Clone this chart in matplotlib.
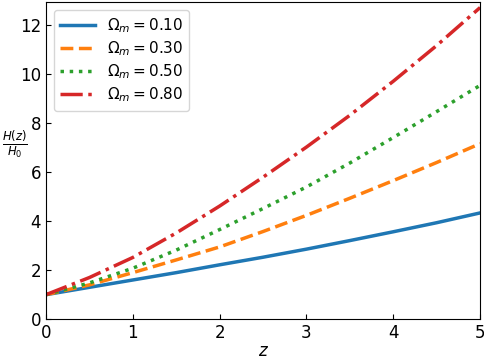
import matplotlib
matplotlib.use("Agg")
import matplotlib.pyplot as plt

# valores
z = [0, 0.5, 1, 1.5, 2, 2.5, 3, 3.5, 4, 4.5, 5]
omegas = ["0.10", "0.30", "0.50", "0.80"]
h_010 = [1, 1.30, 1.60, 1.90, 2.22, 2.53, 2.86, 3.21, 3.57, 3.94, 4.34]
h_030 = [1, 1.40, 1.90, 2.42, 2.95, 3.58, 4.24, 4.94, 5.66, 6.40, 7.17]
h_050 = [1, 1.48, 2.08, 2.82, 3.66, 4.52, 5.40, 6.38, 7.42, 8.48, 9.55]
h_080 = [1, 1.70, 2.52, 3.52, 4.62, 5.80, 7.03, 8.33, 9.72, 11.18, 12.73]

series = [h_010, h_030, h_050, h_080]
estilos = ["-", "--", ":", "-."]

fig, ax = plt.subplots(figsize=(4.84, 3.59), dpi=100)
for om, h, ls in zip(omegas, series, estilos):
    ax.plot(z, h, ls, lw=2.5, label=r"$\Omega_m = %s$" % om)

ax.set_xlim(0, 5)
ax.set_ylim(0, 12.95)
ax.tick_params(direction="in", labelsize=12)
ax.set_xlabel(r"$z$", fontsize=12, labelpad=0)
ax.set_ylabel(r"$\frac{H(z)}{H_0}$", rotation=0, fontsize=12)
ax.yaxis.set_label_coords(-0.072, 0.5)
ax.legend(loc="upper left", fontsize=11, labelspacing=0.3, handlelength=2.3)

fig.subplots_adjust(left=0.095, right=0.992, bottom=0.111, top=0.994)
fig.savefig("out.png")
